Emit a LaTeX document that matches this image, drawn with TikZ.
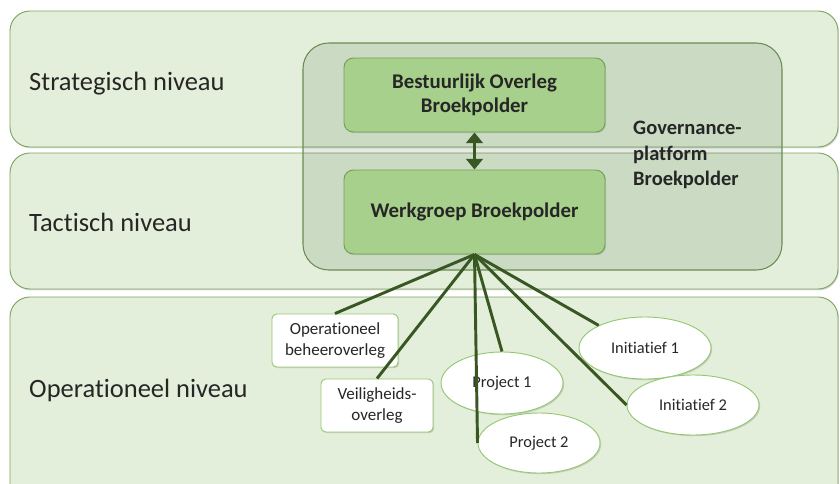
\documentclass[tikz,border=0pt]{standalone}
\usepackage{fontspec}
\setmainfont{Carlito}[Ligatures=NoCommon]
\usetikzlibrary{shapes.geometric,shadows,arrows.meta}
\definecolor{bandfill}{RGB}{227,239,218}
\definecolor{banddraw}{RGB}{125,165,95}
\definecolor{platdraw}{RGB}{105,140,85}
\definecolor{boxfill}{RGB}{168,208,141}
\definecolor{boxdraw}{RGB}{115,160,85}
\definecolor{linkgreen}{RGB}{56,87,35}
\definecolor{nodedraw}{RGB}{150,200,115}

\begin{document}
\begin{tikzpicture}[x=0.3mm, y=-0.3mm,
        band/.style={draw=banddraw, fill=bandfill, line width=0.8pt, rounded corners=17pt,
            drop shadow={opacity=0.3, shadow xshift=0.8pt, shadow yshift=-1.2pt}},
        platform/.style={draw=platdraw, fill=black!80!green, fill opacity=0.1, line width=0.9pt, rounded corners=22pt},
        greenbox/.style={draw=boxdraw, fill=boxfill, line width=0.8pt, rounded corners=8pt, align=center,
            font=\fontsize{17.8}{21}\selectfont\bfseries, text=black!85,
            drop shadow={opacity=0.3, shadow xshift=1pt, shadow yshift=-1pt}},
        smallbox/.style={draw=nodedraw, fill=white, line width=0.8pt, rounded corners=4pt, align=center,
            inner sep=0pt, font=\fontsize{14.5}{17.5}\selectfont, text=black!85,
            drop shadow={opacity=0.3, shadow xshift=1pt, shadow yshift=-1pt}},
        oval/.style={ellipse, draw=nodedraw, fill=white, line width=0.8pt, inner sep=0pt,
            font=\fontsize{14}{17}\selectfont, text=black!85,
            drop shadow={opacity=0.3, shadow xshift=1pt, shadow yshift=-1pt}},
        link/.style={linkgreen, line width=2.5pt},
        level/.style={anchor=base west, inner sep=0pt, font=\fontsize{22.6}{27}\selectfont, text=black!85}]
    \useasboundingbox (0,0) rectangle (840,484);
    \clip (0,0) rectangle (840,484);
    \draw [band] (10,11) rectangle (838,147);
    \draw [band] (10,153) rectangle (838,289);
    \draw [band] (10,297) rectangle (838,530);
    \node [level] (lvlstrat) at (29,90) {Strategisch niveau};
    \node [level] (lvltact) at (29,231) {Tactisch niveau};
    \node [level] (lvlop) at (29,397) {Operationeel niveau};

    \draw [platform] (303,43) rectangle (782,270);
    \node [anchor=west, inner sep=0pt, align=left, font=\fontsize{17.5}{21.5}\selectfont\bfseries, text=black!85] (platlabel) at (633,155)
        {Governance-\\platform\\Broekpolder};

    \node [greenbox, minimum width=261*0.3mm, minimum height=74*0.3mm] (overleg) at (474.5,95) {Bestuurlijk Overleg\\Broekpolder};
    \node [greenbox, minimum width=261*0.3mm, minimum height=84*0.3mm] (werkgroep) at (474.5,212) {Werkgroep Broekpolder};
    \draw [{Triangle[width=14pt,length=9pt]}-{Triangle[width=14pt,length=9pt]}, link, line width=3.4pt] (overleg) -- (werkgroep);

    \node [smallbox, minimum width=126*0.3mm, minimum height=53*0.3mm] (beheer) at (335,340.5) {Operationeel\\beheeroverleg};
    \node [smallbox, minimum width=112*0.3mm, minimum height=53*0.3mm] (veilig) at (377,405.5) {Veiligheids-\\overleg};
    \node [oval, minimum width=122*0.3mm, minimum height=62*0.3mm] (proj1) at (502,383) {Project 1};
    \node [oval, minimum width=122*0.3mm, minimum height=60*0.3mm] (proj2) at (539,443) {Project 2};
    \node [oval, minimum width=132*0.3mm, minimum height=62*0.3mm] (init1) at (645,348) {Initiatief 1};
    \node [oval, minimum width=132*0.3mm, minimum height=60*0.3mm] (init2) at (693,405) {Initiatief 2};

    \draw [link] (werkgroep.south) -- (beheer.north);
    \draw [link] (werkgroep.south) -- (veilig.north);
    \draw [link] (werkgroep.south) -- (proj1.north);
    \draw [link] (werkgroep.south) -- (proj2.west);
    \draw [link] (werkgroep.south) -- (init1.154);
    \draw [link] (werkgroep.south) -- (init2.west);
\end{tikzpicture}
\end{document}
